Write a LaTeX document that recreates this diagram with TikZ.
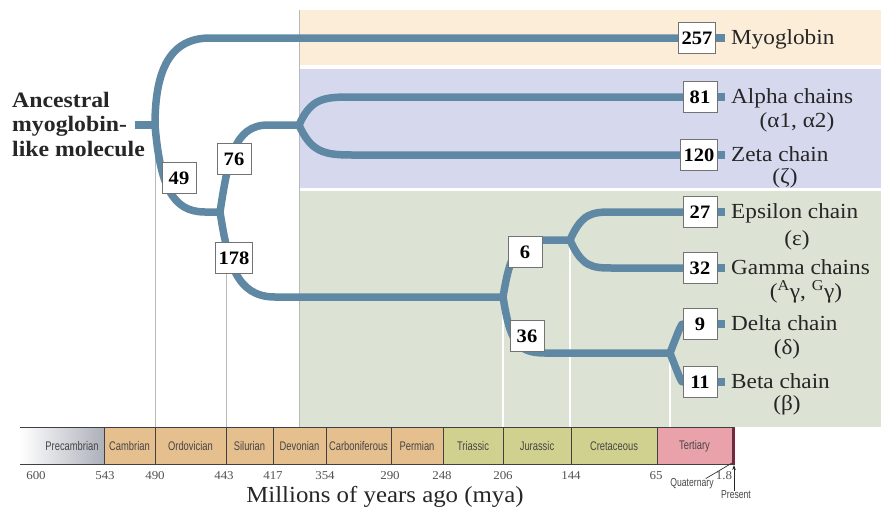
\documentclass[tikz,border=0pt]{standalone}
\usepackage{fontspec}
\setmainfont{Liberation Serif}[FakeStretch=1.08]
\newfontfamily\periodfont{Liberation Sans}[FakeStretch=0.75]
\usetikzlibrary{arrows.meta}

\definecolor{branch}{RGB}{94,136,163}
\definecolor{bandorange}{RGB}{252,237,216}
\definecolor{bandblue}{RGB}{214,217,238}
\definecolor{bandgreen}{RGB}{220,226,212}
\definecolor{perorange}{RGB}{229,191,142}
\definecolor{pergreen}{RGB}{208,209,142}
\definecolor{perpink}{RGB}{234,162,170}
\definecolor{perquat}{RGB}{138,30,62}
\definecolor{precam}{RGB}{172,176,186}
\definecolor{inkdark}{RGB}{38,38,38}
\definecolor{periodink}{RGB}{70,70,70}
\definecolor{guidegray}{RGB}{185,185,185}

\pgfdeclarelayer{bands}
\pgfdeclarelayer{branches}
\pgfsetlayers{bands,branches,main}

\tikzset{
  numbox/.style={draw=black!55, line width=0.8pt, fill=white, inner sep=3pt,
    minimum width=34pt, minimum height=31pt,
    font=\bfseries\fontsize{19}{19}\selectfont, text=black},
  lab/.style={anchor=base west, inner sep=0pt, text=inkdark,
    font=\fontsize{21.5}{24}\selectfont},
  sublab/.style={anchor=base, inner sep=0pt, text=inkdark,
    font=\fontsize{21.5}{24}\selectfont},
  branchline/.style={draw=branch, line width=7.5pt, line cap=round, line join=round},
  stubline/.style={draw=branch, line width=7.5pt, line cap=butt},
  guide/.style={draw=guidegray, line width=1pt},
  guidew/.style={draw=white, line width=1.2pt},
  period/.style={inner sep=0pt, text=periodink, font=\periodfont\fontsize{12.5}{13}\selectfont},
  yrtick/.style={anchor=base, inner sep=0pt, text=inkdark!80, font=\fontsize{12}{12}\selectfont},
}

\begin{document}
\begin{tikzpicture}[x=1pt, y=-1pt]
\useasboundingbox (0,0) rectangle (881,512);

% ---- branch points ----
\coordinate (rootstub) at (135,125);
\coordinate (root) at (155,125);
\coordinate (j2) at (220,212);
\coordinate (j3) at (299,125);
\coordinate (j4) at (503,297);
\coordinate (j5) at (570,240);
\coordinate (j6) at (670,353);

% ---- period boundaries on the top edge of the time bar ----
\coordinate (b490) at (155,427);
\coordinate (b443) at (226,427);
\coordinate (b206) at (503,427);
\coordinate (b144) at (571,427);
\coordinate (b65) at (657,427);

% ---- divergence-time boxes ----
\node[numbox] (n257) at (697,38) {257};
\node[numbox] (n81) at (700,97) {81};
\node[numbox] (n120) at (699,155) {120};
\node[numbox] (n27) at (700,212) {27};
\node[numbox] (n32) at (700,268) {32};
\node[numbox] (n9) at (700,324) {9};
\node[numbox] (n11) at (700,382) {11};
\node[numbox] (n49) at (179,178) {49};
\node[numbox] (n76) at (234,159) {76};
\node[numbox] (n178) at (234,258) {178};
\node[numbox] (n6) at (525,252) {6};
\node[numbox] (n36) at (527,336) {36};

% ---- globin names ----
\node[lab] (l257) at (731,44) {Myoglobin};
\node[lab] (l81) at (731,103) {Alpha chains};
\node[sublab] (s81) at (797,127) {(α1, α2)};
\node[lab] (l120) at (731,161) {Zeta chain};
\node[sublab] (s120) at (785,183) {(ζ)};
\node[lab] (l27) at (731,218) {Epsilon chain};
\node[sublab] (s27) at (797,245) {(ε)};
\node[lab] (l32) at (731,274) {Gamma chains};
\node[sublab] (s32) at (806,298) {(\textsuperscript{A}γ, \textsuperscript{G}γ)};
\node[lab] (l9) at (731,330) {Delta chain};
\node[sublab] (s9) at (787,354) {(δ)};
\node[lab] (l11) at (731,388) {Beta chain};
\node[sublab] (s11) at (787,410) {(β)};

\node[anchor=west, align=left, inner sep=0pt, text=inkdark,
  font=\bfseries\fontsize{22}{24.5}\selectfont] (anc) at (12,124)
  {Ancestral\\myoglobin-\\like molecule};

% ---- coloured bands and guide lines ----
\begin{pgfonlayer}{bands}
  \fill[bandorange] (299,10) rectangle (881,65);
  \fill[bandblue] (299,69) rectangle (881,188);
  \fill[bandgreen] (299,191) rectangle (881,427);
  \draw[guide, line width=0.8pt] (299,10) -- (299,427);
  \draw[guide] (root) -- (b490);
  \draw[guide] (n178.south -| b443) -- (b443);
  \draw[guidew] (j4) -- (b206);
  \draw[guidew] (j5) -- (j5 |- b144);
  \draw[guidew] (j6) -- (j6 |- b65);
\end{pgfonlayer}

% ---- the tree ----
\begin{pgfonlayer}{branches}
  \draw[stubline] (rootstub) -- (root);
  \draw[branchline] (root) .. controls (155,70) and (170,38) .. (210,38) -- (n257);
  \draw[branchline] (root) .. controls (160,185) and (172,212) .. (205,212) -- (j2);
  \draw[branchline] (j2) .. controls (228,160) and (234,125) .. (268,125) -- (j3);
  \draw[branchline] (j2) .. controls (228,262) and (236,297) .. (275,297) -- (j4);
  \draw[branchline] (j3) .. controls (311,98) and (324,97) .. (352,97) -- (n81);
  \draw[branchline] (j3) .. controls (311,152) and (324,155) .. (352,155) -- (n120);
  \draw[branchline] (j4) .. controls (510,255) and (516,240) .. (545,240) -- (j5);
  \draw[branchline] (j4) .. controls (510,340) and (516,353) .. (545,353) -- (j6);
  \draw[branchline] (j5) .. controls (582,213) and (592,212) .. (612,212) -- (n27);
  \draw[branchline] (j5) .. controls (582,267) and (592,268) .. (612,268) -- (n32);
  \draw[branchline] (j6) .. controls (677,335) and (681,324) .. (n9);
  \draw[branchline] (j6) .. controls (677,371) and (681,382) .. (n11);
  % short ties from each box to its name
  \foreach \b/\l in {n257/l257, n81/l81, n120/l120, n27/l27, n32/l32, n9/l9, n11/l11}
    \draw[stubline, shorten >=6pt] (\b.east) -- (\b.east -| \l.west);
\end{pgfonlayer}

% ---- geological time bar ----
\shade[left color=white, right color=precam] (20,427) rectangle (104,464);
\foreach \a/\b/\c in {104/155/perorange, 155/226/perorange, 226/273/perorange,
    273/326/perorange, 326/391/perorange, 391/443/perorange,
    443/503/pergreen, 503/571/pergreen, 571/657/pergreen,
    657/732/perpink, 732/735/perquat}
  \fill[\c] (\a,427) rectangle (\b,464);
\draw[black!75, line width=0.9pt] (20,427) -- (735,427) (20,464) -- (735,464);
\foreach \x in {104,155,226,273,326,391,443,503,571,657,732}
  \draw[black!75, line width=0.9pt] (\x,427) -- (\x,464);

\node[period] (pPre) at (72,446) {Precambrian};
\node[period] (pCam) at (129.5,446) {Cambrian};
\node[period] (pOrd) at (190.5,446) {Ordovician};
\node[period] (pSil) at (249.5,446) {Silurian};
\node[period] (pDev) at (299.5,446) {Devonian};
\node[period] (pCar) at (358.5,446) {Carboniferous};
\node[period] (pPer) at (417,446) {Permian};
\node[period] (pTri) at (473,446) {Triassic};
\node[period] (pJur) at (537,446) {Jurassic};
\node[period] (pCre) at (614,446) {Cretaceous};
\node[period] (pTer) at (694.5,446) {Tertiary};

\foreach \x/\t in {36/600, 105/543, 155/490, 224/443, 273/417, 325/354,
    390/290, 442/248, 503/206, 571/144, 656/65, 724/1.8}
  \node[yrtick] at (\x,479) {\t};

\node[period, font=\periodfont\fontsize{11.5}{12}\selectfont] (quat) at (692,484) {Quaternary};
\node[period, font=\periodfont\fontsize{11.5}{12}\selectfont] (pres) at (736,495) {Present};
\coordinate (quattip) at (732,463);
\draw[black!80, line width=0.7pt] (quat.north east) ++(-8,0) -- (quattip);
\draw[black!85, line width=0.8pt, -{Stealth[length=5pt,width=3.5pt]}] (pres.north -| 734,0) -- (734,465);

\node[anchor=base, inner sep=0pt, text=inkdark, font=\fontsize{23}{24}\selectfont]
  (axis) at (385,502) {Millions of years ago (mya)};
\end{tikzpicture}
\end{document}
